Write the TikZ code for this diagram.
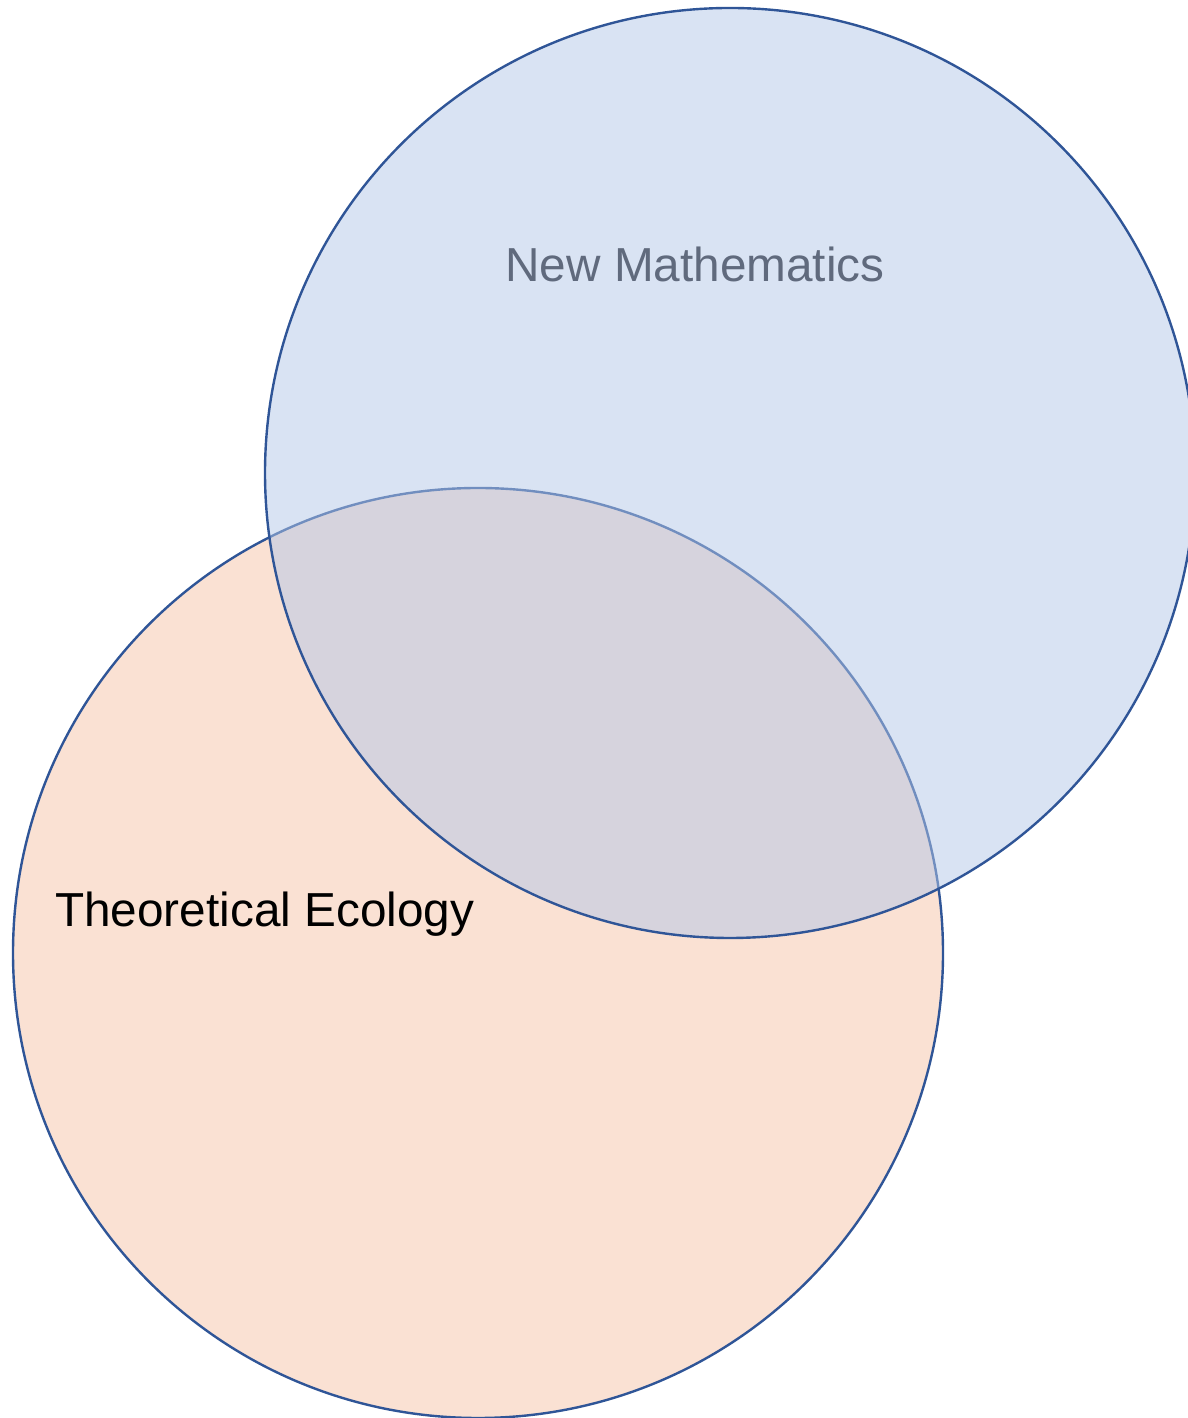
\documentclass[tikz,border=0pt]{standalone}
\usepackage{fontspec}
\setmainfont{Liberation Sans}
\usetikzlibrary{positioning}
\definecolor{ringblue}{HTML}{2F5597}
\definecolor{mathfill}{HTML}{B4C7E7}
\definecolor{ecofill}{RGB}{250,225,211}
\definecolor{mathtext}{RGB}{96,106,125}
\tikzset{
  set ring/.style={draw=ringblue, line width=2.4pt},
  eco set/.style={set ring, fill=ecofill},
  math set/.style={set ring, fill=mathfill, fill opacity=0.5},
  set label/.style={font=\fontsize{47.7}{57}\selectfont, inner sep=0pt},
}

\begin{document}
\begin{tikzpicture}[x=1pt, y=1pt]
  \useasboundingbox (0,0) rectangle (1187,1418);

  % Centres
  \coordinate (eco) at (478,465);
  \coordinate (math) at (730,945);

  % Sets
  \draw[eco set] (eco) circle[radius=465];
  \draw[math set] (math) circle[radius=465];

  % Labels
  \node[set label, text=mathtext, anchor=base] (mathlabel) at (695,1136) {New Mathematics};
  \node[set label, anchor=base west] (ecolabel) at (55,491) {Theoretical Ecology};
\end{tikzpicture}
\end{document}
